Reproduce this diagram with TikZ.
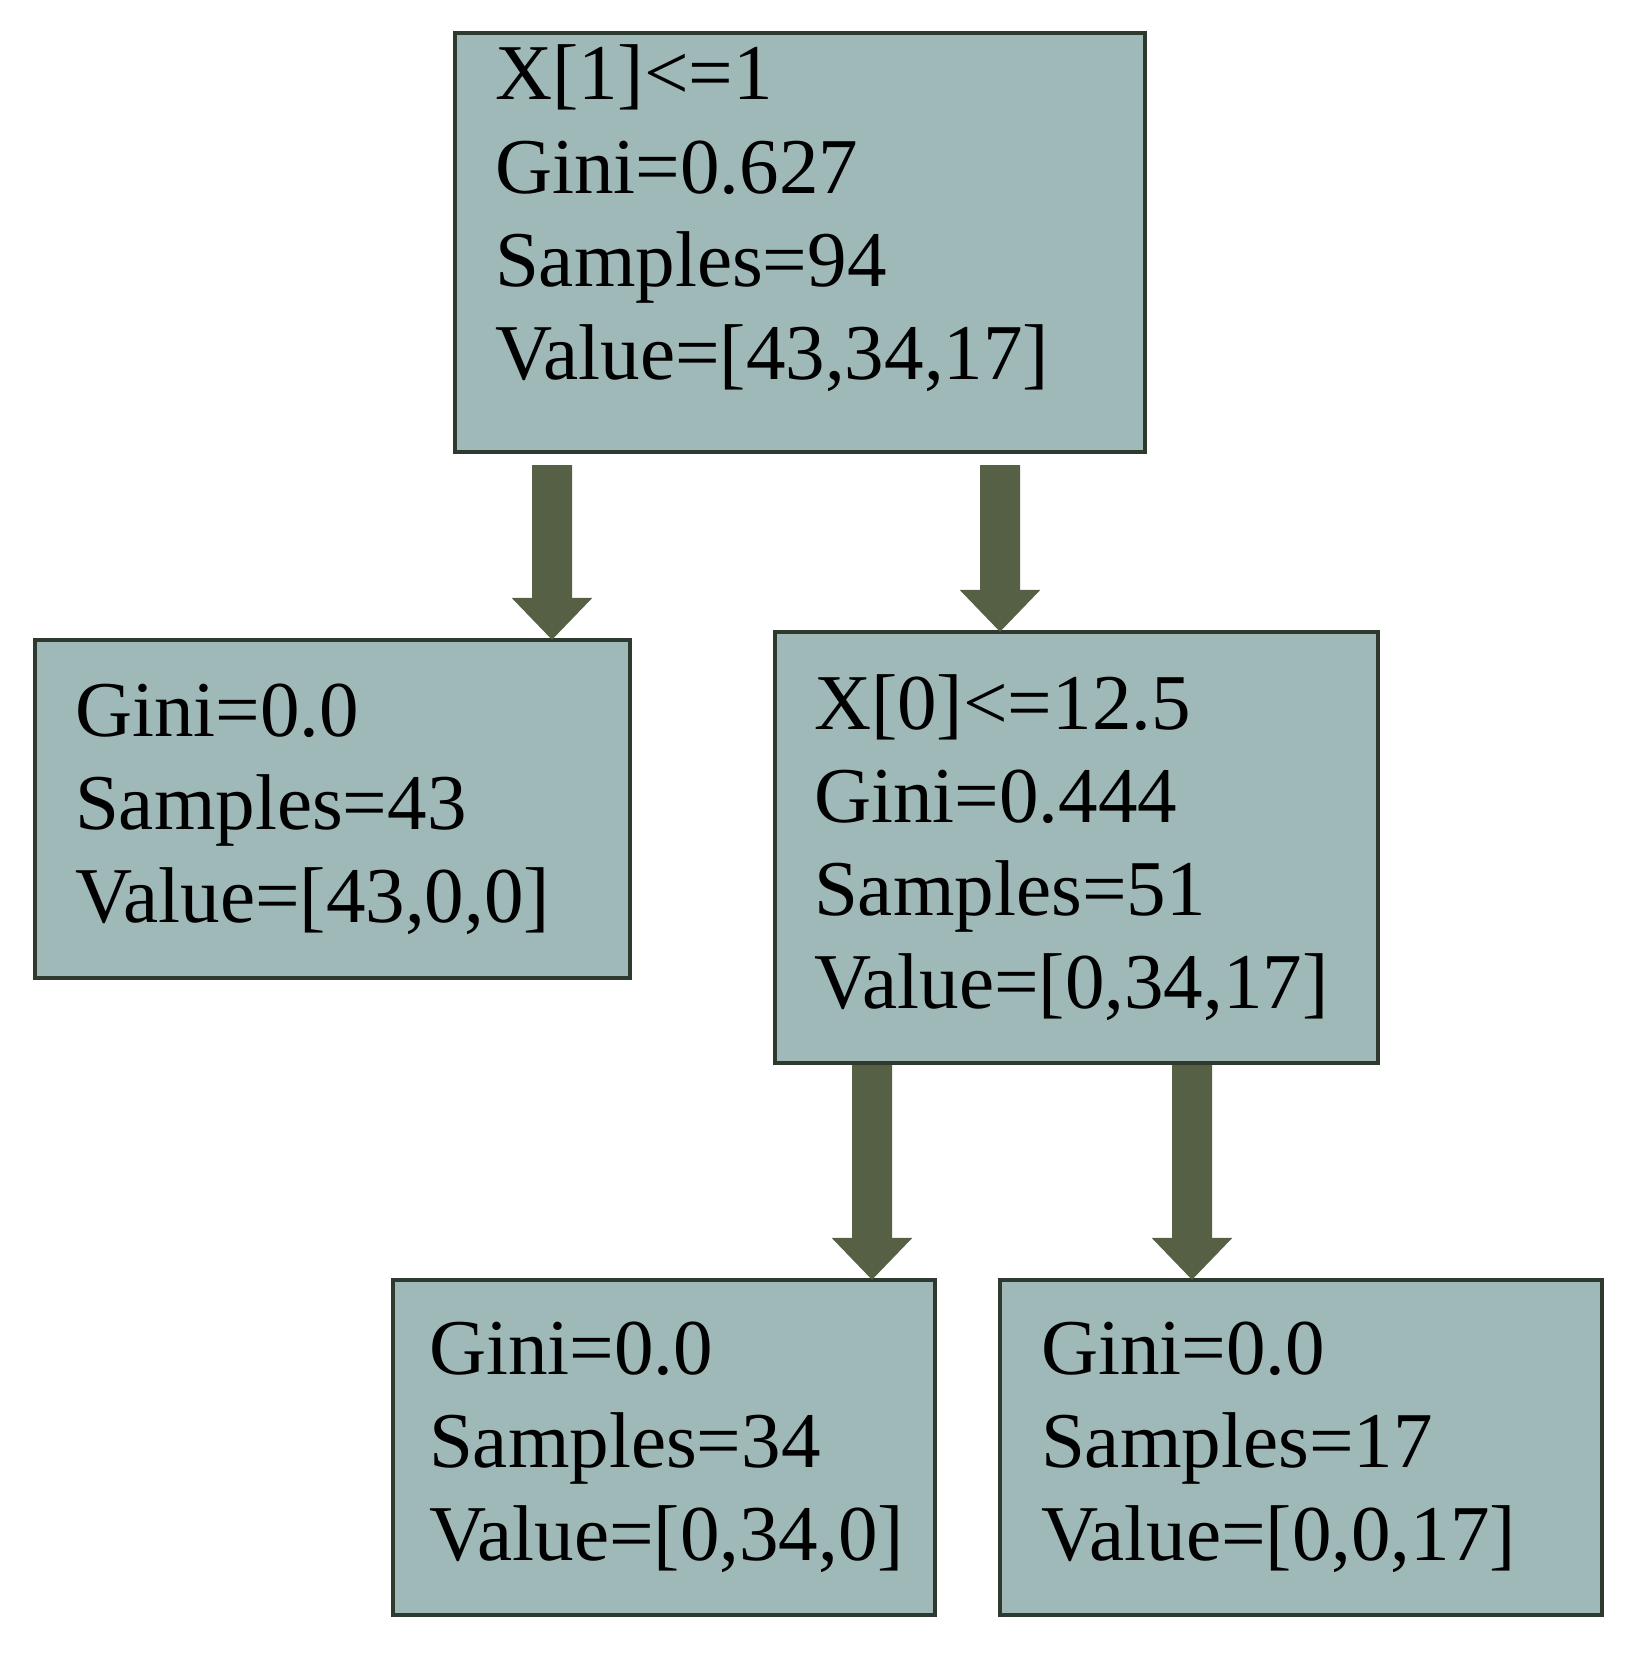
\documentclass[tikz,border=0pt]{standalone}
\usepackage{fontspec}
\setmainfont{Liberation Serif}
\usetikzlibrary{arrows.meta}
\definecolor{boxfill}{HTML}{9FB8B8}
\definecolor{boxline}{HTML}{2F3A2F}
\definecolor{arrowcol}{HTML}{556045}
\tikzset{
  box/.style={draw=boxline, line width=1.2pt, fill=boxfill, rectangle, align=left,
    font=\fontsize{22.5}{26.5}\selectfont, inner sep=0pt},
  split/.style={arrowcol, line width=0.4cm, -{Triangle[width=0.78cm,length=0.42cm]}, shorten >=-0.02cm}
}
\begin{document}
\begin{tikzpicture}
  \useasboundingbox (0,0) rectangle (16.37,-16.59);
  % Nodes of the tree
  \node[box, minimum width=6.9cm, minimum height=4.19cm] (root) at (8.00,-2.425)
    {\parbox{6.1cm}{X[1]<=1\\Gini=0.627\\Samples=94\\Value=[43,34,17]}\\[0.45cm]};
  \node[box, minimum width=5.95cm, minimum height=3.38cm] (leafa) at (3.325,-8.09)
    {\parbox{5.15cm}{Gini=0.0\\Samples=43\\Value=[43,0,0]}};
  \node[box, minimum width=6.03cm, minimum height=4.31cm] (mid) at (10.765,-8.475)
    {\parbox{5.25cm}{X[0]<=12.5\\Gini=0.444\\Samples=51\\Value=[0,34,17]}};
  \node[box, minimum width=5.42cm, minimum height=3.35cm] (leafb) at (6.64,-14.475)
    {\parbox{4.7cm}{Gini=0.0\\Samples=34\\Value=[0,34,0]}};
  \node[box, minimum width=6.02cm, minimum height=3.35cm] (leafc) at (13.01,-14.475)
    {\parbox{5.2cm}{Gini=0.0\\Samples=17\\Value=[0,0,17]}};
  % Splits
  \draw[split] ([xshift=-2.48cm,yshift=-0.11cm]root.south) -- ([xshift=2.195cm]leafa.north);
  \draw[split] ([xshift=2.0cm,yshift=-0.11cm]root.south) -- ([xshift=-0.765cm]mid.north);
  \draw[split] ([xshift=-2.045cm]mid.south) -- ([xshift=2.08cm]leafb.north);
  \draw[split] ([xshift=1.155cm]mid.south) -- ([xshift=-1.09cm]leafc.north);
\end{tikzpicture}
\end{document}
